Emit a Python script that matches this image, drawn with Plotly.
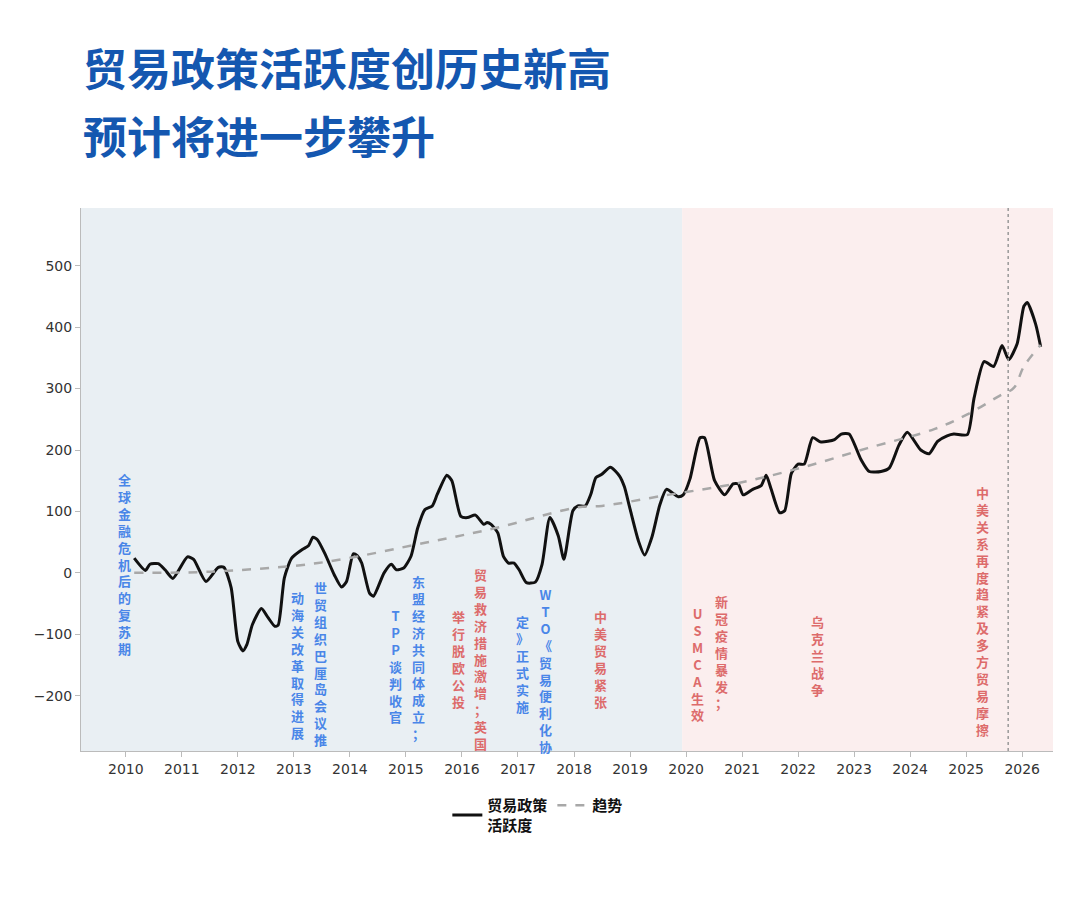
import plotly.graph_objects as go

# 贸易政策活跃度
years = [2010.15, 2010.35, 2010.43, 2010.58, 2010.70, 2010.84, 2011.10, 2011.21, 2011.43, 2011.65,
         2011.75, 2011.88, 2012.00, 2012.09, 2012.16, 2012.26, 2012.42, 2012.54, 2012.66, 2012.72,
         2012.83, 2012.96, 2013.15, 2013.26, 2013.34, 2013.42, 2013.56, 2013.72, 2013.85, 2013.94,
         2014.06, 2014.13, 2014.21, 2014.35, 2014.42, 2014.61, 2014.74, 2014.83, 2014.96, 2015.09,
         2015.21, 2015.34, 2015.47, 2015.56, 2015.73, 2015.82, 2015.98, 2016.10, 2016.24, 2016.39,
         2016.45, 2016.52, 2016.64, 2016.74, 2016.83, 2016.93, 2017.02, 2017.15, 2017.31, 2017.43,
         2017.57, 2017.72, 2017.82, 2017.98, 2018.07, 2018.20, 2018.30, 2018.39, 2018.49, 2018.65,
         2018.81, 2018.90, 2019.00, 2019.15, 2019.26, 2019.39, 2019.53, 2019.65, 2019.86, 2019.95,
         2020.07, 2020.25, 2020.33, 2020.51, 2020.69, 2020.84, 2020.93, 2021.02, 2021.19, 2021.34,
         2021.43, 2021.52, 2021.67, 2021.76, 2021.88, 2022.00, 2022.11, 2022.26, 2022.41, 2022.65,
         2022.77, 2022.91, 2023.12, 2023.27, 2023.48, 2023.63, 2023.80, 2023.95, 2024.19, 2024.34,
         2024.49, 2024.66, 2024.78, 2025.02, 2025.14, 2025.32, 2025.49, 2025.64, 2025.76, 2025.91,
         2026.03, 2026.09, 2026.24, 2026.33]
activity = [24, 4, 14, 15, 5, -9, 26, 22, -14, 9,
            9, -24, -112, -127, -117, -84, -58, -73, -87, -85,
            -8, 24, 38, 44, 58, 54, 30, -3, -23, -14,
            31, 28, 16, -33, -38, 0, 14, 5, 8, 27,
            73, 103, 109, 128, 159, 150, 92, 90, 94, 79,
            82, 79, 65, 27, 16, 16, 5, -16, -15, 14,
            90, 60, 22, 101, 109, 109, 128, 155, 160, 172,
            158, 140, 104, 52, 29, 58, 110, 136, 124, 127,
            153, 220, 220, 150, 127, 145, 145, 127, 136, 142,
            159, 136, 98, 101, 162, 177, 177, 220, 213, 217,
            226, 226, 185, 165, 165, 171, 208, 229, 200, 194,
            214, 223, 226, 225, 284, 344, 336, 370, 347, 373,
            434, 440, 405, 368]

# 趋势
trend_years = [2010.15, 2011.5, 2013.43, 2015.34, 2016.6, 2018.08, 2018.5, 2019.68, 2020.87, 2022.05,
               2023.24, 2024.43, 2025.02, 2025.61, 2025.85, 2026.03, 2026.33]
trend = [0, 2, 16, 49, 73, 107, 109, 127, 145, 171,
         203, 234, 258, 289, 301, 336, 371]

# 事件注释: (年份, 顶部值, 文本, 颜色)
BLUE = "#4a86e8"
RED = "#dd6b6b"
events = [
    (2009.98, 171, "全球金融危机后的复苏期", BLUE),
    (2013.48, -5, "世贸组织巴厘岛会议推", BLUE),
    (2013.07, -21, "动海关改革取得进展", BLUE),
    (2015.23, 5, "东盟经济共同体成立；", BLUE),
    (2014.82, -50, "TPP谈判收官", BLUE),
    (2016.33, 16, "贸易救济措施激增；英国", RED),
    (2015.94, -52, "举行脱欧公投", RED),
    (2017.49, -16, "WTO《贸易便利化协", BLUE),
    (2017.08, -61, "定》正式实施", BLUE),
    (2018.47, -52, "中美贸易紧张", RED),
    (2020.63, -28, "新冠疫情暴发；", RED),
    (2020.20, -47, "USMCA生效", RED),
    (2022.35, -60, "乌克兰战争", RED),
    (2025.30, 150, "中美关系再度趋紧及多方贸易摩擦", RED),
]

fig = go.Figure()
fig.add_trace(go.Scatter(x=years, y=activity, mode="lines", name="<b>贸易政策<br>活跃度</b>",
                         line=dict(color="#111111", width=3, shape="spline", smoothing=0.6)))
fig.add_trace(go.Scatter(x=trend_years, y=trend, mode="lines", name="<b>趋势</b>",
                         line=dict(color="#a8a8a8", width=2.5, dash="dash", shape="spline")))

fig.add_vrect(x0=2009.2, x1=2019.93, fillcolor="#e9eff3", line_width=0, layer="below")
fig.add_vrect(x0=2019.93, x1=2026.55, fillcolor="#fbeeee", line_width=0, layer="below")
fig.add_vline(x=2025.75, line=dict(color="#999999", width=1.5, dash="dot"))

for x, y, txt, col in events:
    fig.add_annotation(x=x, y=y, xref="x", yref="y", text="<b>" + "<br>".join(list(txt)) + "</b>",
                       showarrow=False, xanchor="center", yanchor="top",
                       font=dict(size=13, color=col, family="Noto Sans CJK SC"))

fig.add_annotation(x=0, y=1.0, xref="paper", yref="paper", xanchor="left", yanchor="top",
                   text="<b>贸易政策活跃度创历史新高</b>", showarrow=False, yshift=175,
                   font=dict(size=44, color="#1457b0", family="Noto Sans CJK SC"))
fig.add_annotation(x=0, y=1.0, xref="paper", yref="paper", xanchor="left", yanchor="top",
                   text="<b>预计将进一步攀升</b>", showarrow=False, yshift=107,
                   font=dict(size=44, color="#1457b0", family="Noto Sans CJK SC"))

fig.update_layout(
    width=1075, height=899,
    paper_bgcolor="white", plot_bgcolor="white",
    margin=dict(l=73, r=30, t=200, b=156, autoexpand=False),
    font=dict(family="DejaVu Sans", size=14, color="#333333"),
    legend=dict(orientation="h", x=0.47, xanchor="center", y=-0.07, yanchor="top",
                font=dict(size=15, color="#111111", family="Noto Sans CJK SC")),
)
fig.update_xaxes(range=[2009.2, 2026.55], tickvals=list(range(2010, 2027)), showgrid=False,
                 showline=True, linecolor="#bbbbbb", ticks="outside", tickcolor="#bbbbbb",
                 zeroline=False, automargin=False)
fig.update_yaxes(range=[-290, 594], tickvals=list(range(-200, 501, 100)), showgrid=False,
                 showline=True, linecolor="#bbbbbb", ticks="outside", tickcolor="#bbbbbb",
                 zeroline=False, automargin=False)

fig.write_html("out.html")
